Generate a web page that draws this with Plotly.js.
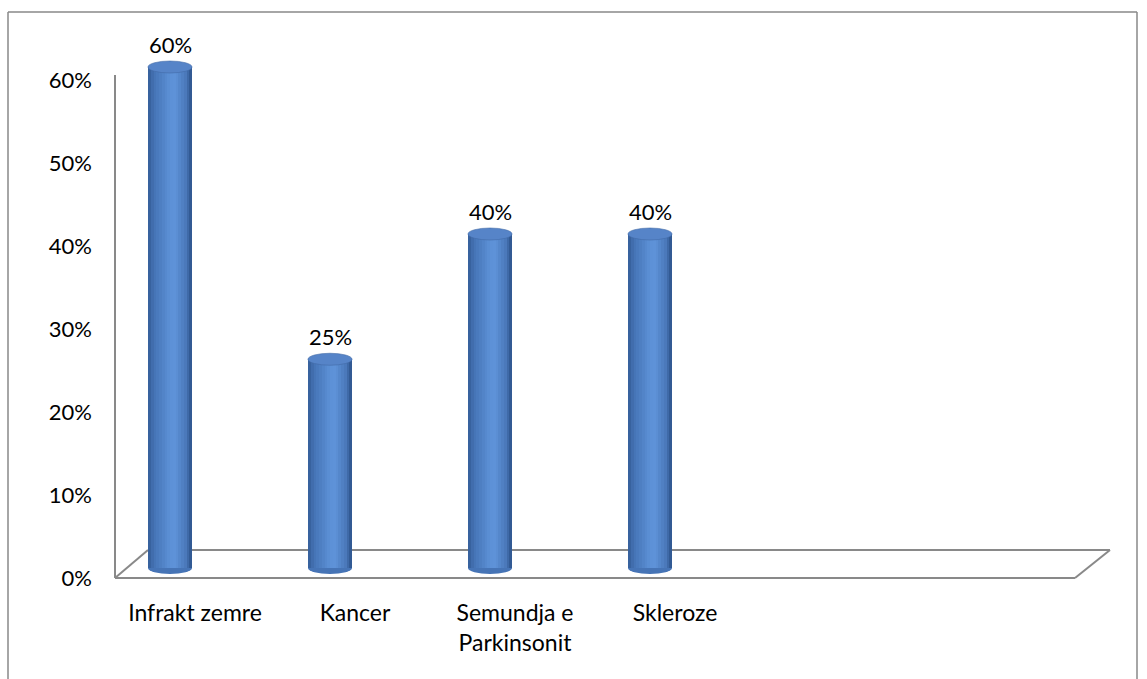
<!DOCTYPE html>
<html>
<head>
<meta charset="utf-8">
<script src="https://cdn.plot.ly/plotly-3.0.1.min.js"></script>
<style>html,body{margin:0;padding:0;background:#fff;} #chart{width:1147px;height:679px;}</style>
</head>
<body>
<div id="chart"></div>
<script>
// ---- data ----
const categories = ["Infrakt zemre", "Kancer", "Semundja e<br>Parkinsonit", "Skleroze", " ", "  "];
const values = [0.60, 0.25, 0.40, 0.40, null, null];
const yTickVals = [0, 0.1, 0.2, 0.3, 0.4, 0.5, 0.6];

// ---- geometry (pixels) ----
const W = 1147, H = 679;
const L = 115, R = 1075, TOP = 20, BOT = 578;
const plotW = R - L, plotH = BOT - TOP;
const catPx = plotW / categories.length;
const yMax = 0.6 * plotH / (BOT - 80);
// bars: base lifted 10px, 60% reaches y=67
const barBasePx = 568, barTopPx = 67;
const pxPerUnit = (barBasePx - barTopPx) / 0.6;
const r0 = -(BOT - barBasePx) / pxPerUnit;
const r1 = r0 + plotH / pxPerUnit;
const shiftCat = -25 / catPx;
const barW = 44 / catPx;

const px = x => (x - L) / plotW;
const py = y => (BOT - y) / plotH;

// cylinder shading
const nSlices = 16;
const stops = [[0, [52, 92, 150]], [0.12, [68, 114, 180]], [0.5, [92, 144, 214]], [0.62, [94, 146, 216]], [0.85, [74, 120, 186]], [1, [44, 82, 138]]];
function shade(t) {
  for (let i = 0; i < stops.length - 1; i++) {
    const [a, ca] = stops[i], [b, cb] = stops[i + 1];
    if (t >= a && t <= b) {
      const f = (t - a) / (b - a);
      const c = ca.map((v, k) => Math.round(v + (cb[k] - v) * f));
      return `rgb(${c[0]},${c[1]},${c[2]})`;
    }
  }
  return 'rgb(44,82,138)';
}
const traces = [];
for (let s = 0; s < nSlices; s++) {
  const sw = barW / nSlices;
  traces.push({
    type: 'bar', x: categories, y: values, xaxis: 'x2', yaxis: 'y2',
    width: sw * 1.08, offset: -barW / 2 + s * sw,
    marker: { color: shade((s + 0.5) / nSlices), line: { width: 0 } },
    hoverinfo: 'skip', showlegend: false, cliponaxis: false
  });
}
// invisible trace on main axes so they render
traces.push({ type: 'scatter', x: categories, y: categories.map(() => null), xaxis: 'x', yaxis: 'y', showlegend: false, hoverinfo: 'skip' });

const ellH = 6 / pxPerUnit;
const shapes = [];
values.forEach((v, i) => {
  if (v === null) return;
  shapes.push({ type: 'circle', xref: 'x2', yref: 'y2', x0: i - barW / 2, x1: i + barW / 2, y0: 0 - ellH, y1: 0 + ellH, fillcolor: 'rgb(70,116,182)', line: { width: 0 }, layer: 'below' });
  shapes.push({ type: 'circle', xref: 'x2', yref: 'y2', x0: i - barW / 2, x1: i + barW / 2, y0: v - ellH, y1: v + ellH, fillcolor: 'rgb(86,132,200)', line: { width: 0.6, color: 'rgb(66,106,166)' }, layer: 'above' });
});
// floor, wall edge & frame
const gray = '#898989';
const lineSeg = (x0, y0, x1, y1, w) => ({ type: 'line', xref: 'paper', yref: 'paper', x0: px(x0), y0: py(y0), x1: px(x1), y1: py(y1), line: { color: gray, width: w || 2 }, layer: 'below' });
shapes.push(lineSeg(115, 578, 1075, 578));
shapes.push(lineSeg(1075, 578, 1110, 550));
shapes.push(lineSeg(148, 550, 1110, 550));
shapes.push(lineSeg(115, 578, 148, 550));
shapes.push(lineSeg(115, 578, 115, 75));
// outer border
shapes.push(lineSeg(8, 12, 1137, 12, 1.5));
shapes.push(lineSeg(8, 12, 8, 690, 1.5));
shapes.push(lineSeg(1137, 12, 1137, 690, 1.5));

const annotations = [];
values.forEach((v, i) => {
  if (v === null) return;
  annotations.push({ xref: 'x2', yref: 'y2', x: i, y: v, text: Math.round(v * 100) + '%', showarrow: false, yshift: 23, font: { size: 22, color: '#000' } });
});

const layout = {
  width: W, height: H,
  margin: { l: L, r: W - R, t: TOP, b: H - BOT, pad: 0 },
  paper_bgcolor: '#fff', plot_bgcolor: 'rgba(0,0,0,0)',
  font: { family: 'Lato, "Open Sans", sans-serif', size: 22, color: '#000' },
  barmode: 'overlay', bargap: 0,
  showlegend: false,
  xaxis: { type: 'category', range: [-0.5, categories.length - 0.5], showgrid: false, zeroline: false, showline: false, ticks: '', ticklabelstandoff: 19, tickfont: { size: 23 }, fixedrange: true },
  yaxis: { range: [0, yMax], tickvals: yTickVals, tickformat: '.0%', showgrid: false, zeroline: false, showline: false, ticks: '', ticklabelstandoff: 22, tickfont: { size: 22 }, fixedrange: true },
  xaxis2: { type: 'category', overlaying: 'x', range: [-0.5 - shiftCat, categories.length - 0.5 - shiftCat], visible: false, fixedrange: true },
  yaxis2: { overlaying: 'y', range: [r0, r1], visible: false, fixedrange: true },
  shapes: shapes,
  annotations: annotations
};
Plotly.newPlot('chart', traces, layout, { displayModeBar: false, staticPlot: true });
</script>
</body>
</html>
